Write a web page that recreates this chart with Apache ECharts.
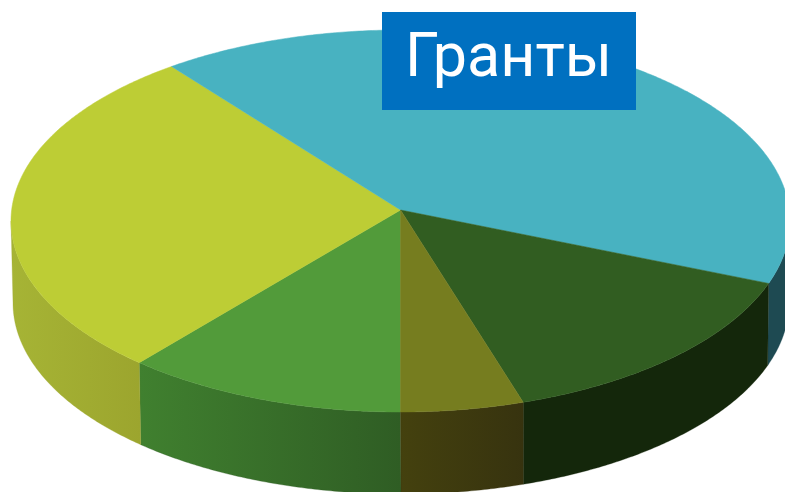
<!DOCTYPE html>
<html>
<head>
<meta charset="utf-8">
<style>
  html, body { margin: 0; padding: 0; background: #fff; }
  #chart { width: 785px; height: 492px; }
</style>
<script src="https://cdn.jsdelivr.net/npm/echarts@6/dist/echarts.min.js"></script>
</head>
<body>
<div id="chart"></div>
<script>
const titleText = "Гранты";
// clockwise from the front of the disc, share of the whole in percent
const categories = ["green", "lime", "teal", "dark", "olive"];
const shares = [11.7, 28.3, 40.3, 14.6, 5.1];

const topColors = ["#529b3a", "#bdcd35", "#48b2c1", "#315d21", "#767d1f"];
const wallColors = [
  ["#40802f", "#2f5d24"],
  ["#a6b435", "#9ca52e"],
  ["#1e4a52", "#1e4a52"],
  ["#14270b", "#14270b"],
  ["#44410e", "#37330f"],
];

// projection of the disc: top rim, bottom rim and the off-centre apex
const topRim = { cx: 400.5, cy: 221, rx: 389.5, ry: 191 };
const bottomRim = { cx: 401, cy: 303, rx: 388, ry: 191 };
const apex = [400.5, 210];

const total = shares.reduce((a, b) => a + b, 0);
let running = 0;
const sliceData = shares.map((s, i) => {
  const row = [running, running + s, i];
  running += s;
  return row;
});

function rimPoint(rim, deg) {
  const t = (deg * Math.PI) / 180;
  return [rim.cx - rim.rx * Math.sin(t), rim.cy + rim.ry * Math.cos(t)];
}

function arc(rim, from, to) {
  const pts = [];
  const steps = Math.max(2, Math.ceil(Math.abs(to - from) * 2));
  for (let i = 0; i <= steps; i++) {
    pts.push(rimPoint(rim, from + ((to - from) * i) / steps));
  }
  return pts;
}

const toDeg = (v) => (v / total) * 360;

function renderTop(params, api) {
  const i = api.value(2);
  const pts = [apex].concat(arc(topRim, toDeg(api.value(0)), toDeg(api.value(1))));
  return {
    type: "polygon",
    shape: { points: pts },
    style: { fill: topColors[i], stroke: topColors[i], lineWidth: 0.5 },
  };
}

function renderWall(params, api) {
  const i = api.value(2);
  // only the part facing the viewer is visible (-90..90 in front)
  let from = toDeg(api.value(0));
  let to = toDeg(api.value(1));
  if (from < 90) {
    to = Math.min(to, 90);
  } else if (to > 270) {
    from = Math.max(from, 270);
  } else {
    return null;
  }
  const pts = arc(topRim, from, to).concat(arc(bottomRim, to, from));
  const [c0, c1] = wallColors[i];
  const fill = new echarts.graphic.LinearGradient(0, 0, 1, 0, [
    { offset: 0, color: c0 },
    { offset: 1, color: c1 },
  ]);
  return {
    type: "polygon",
    shape: { points: pts },
    style: { fill: fill, stroke: c1, lineWidth: 0.3 },
  };
}

const chart = echarts.init(document.getElementById("chart"), null, { renderer: "canvas" });
chart.setOption({
  animation: false,
  backgroundColor: "#ffffff",
  series: [
    {
      type: "custom",
      name: "walls",
      coordinateSystem: "none",
      renderItem: renderWall,
      data: sliceData,
      z: 1,
    },
    {
      type: "custom",
      name: "tops",
      coordinateSystem: "none",
      renderItem: renderTop,
      data: sliceData,
      z: 2,
    },
  ],
  graphic: [
    {
      type: "rect",
      left: 382,
      top: 12,
      shape: { width: 254, height: 98 },
      style: { fill: "#0070c0" },
      z: 10,
    },
    {
      type: "text",
      left: 405,
      top: 30,
      style: {
        text: titleText,
        fill: "#ffffff",
        font: '61px Roboto, "Open Sans", sans-serif',
      },
      z: 11,
    },
  ],
});
</script>
</body>
</html>
